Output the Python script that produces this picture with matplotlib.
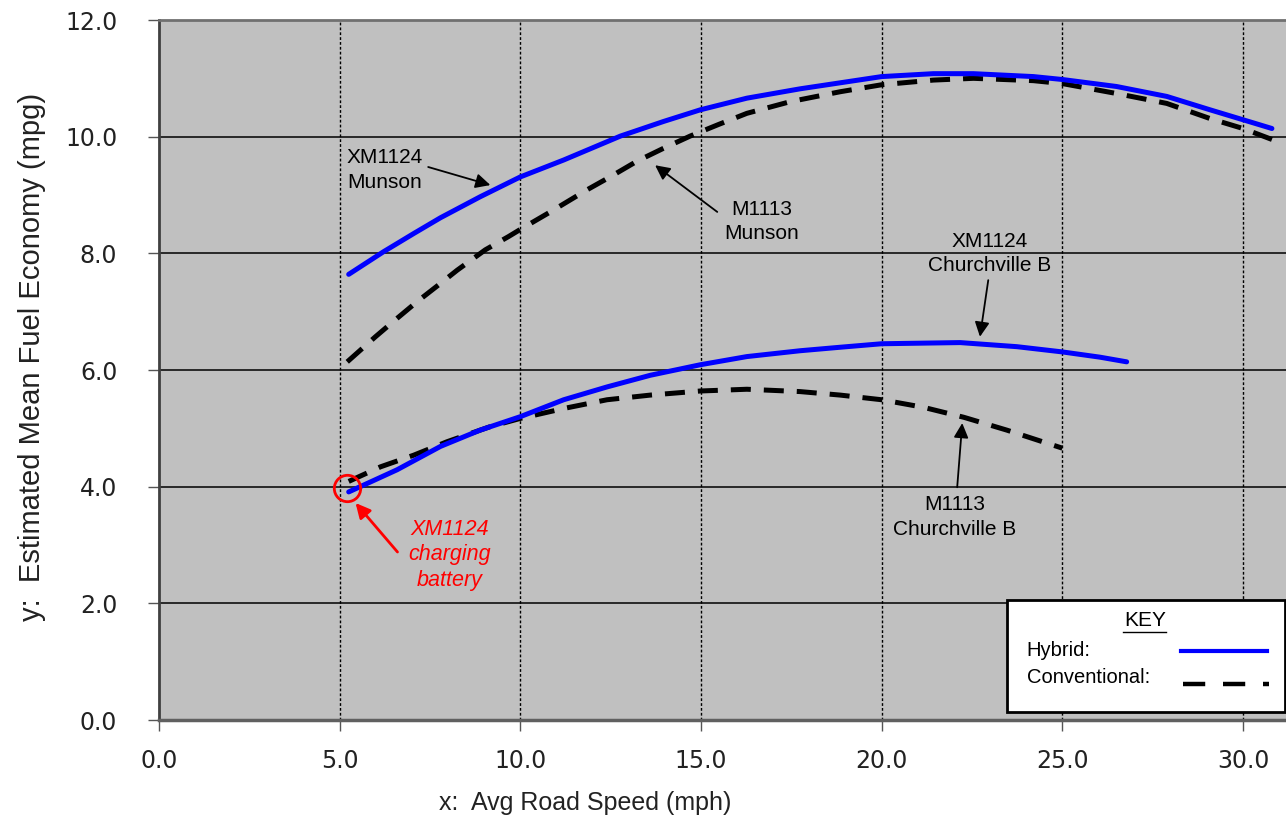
import matplotlib
matplotlib.use("Agg")
import matplotlib.pyplot as plt
from matplotlib.patches import Rectangle

# values (x = avg road speed mph, y = mpg)
hyb_munson_x = [5.25, 6.22, 7.05, 7.79, 8.89, 10.0, 11.2, 12.77, 13.96, 14.98, 16.27,
                17.74, 20.0, 21.43, 22.54, 24.2, 25.0, 26.5, 27.89, 29.09, 30.0, 30.8]
hyb_munson_y = [7.64, 8.03, 8.34, 8.61, 8.97, 9.31, 9.60, 10.01, 10.26, 10.46, 10.66,
                10.82, 11.03, 11.08, 11.08, 11.03, 10.98, 10.86, 10.69, 10.46, 10.29, 10.14]

conv_munson_x = [5.21, 5.99, 6.54, 7.14, 7.74, 8.25, 9.03, 9.68, 10.0, 10.83, 11.85,
                 12.54, 13.23, 13.96, 14.70, 15.49, 16.27, 17.47, 18.85, 20.0, 21.43,
                 22.54, 24.2, 25.0, 26.5, 27.89, 29.09, 30.0, 30.98]
conv_munson_y = [6.14, 6.57, 6.86, 7.17, 7.46, 7.71, 8.06, 8.29, 8.41, 8.71, 9.09,
                 9.33, 9.58, 9.80, 10.01, 10.21, 10.40, 10.60, 10.77, 10.89, 10.97,
                 11.0, 10.96, 10.91, 10.74, 10.57, 10.31, 10.14, 9.91]

hyb_church_x = [5.25, 6.59, 7.79, 8.89, 10.0, 11.2, 12.4, 13.6, 14.98, 16.27, 17.74,
                18.85, 20.0, 22.17, 23.74, 25.0, 26.04, 26.78]
hyb_church_y = [3.91, 4.29, 4.69, 4.97, 5.20, 5.49, 5.71, 5.91, 6.09, 6.23, 6.33,
                6.39, 6.45, 6.47, 6.40, 6.31, 6.22, 6.14]

conv_church_x = [5.25, 6.13, 7.05, 7.97, 9.17, 10.0, 11.2, 12.4, 13.6, 14.98, 16.27,
                 17.74, 18.85, 20.0, 21.16, 22.27, 23.46, 25.0]
conv_church_y = [4.09, 4.34, 4.54, 4.77, 5.03, 5.17, 5.34, 5.49, 5.57, 5.64, 5.67,
                 5.63, 5.57, 5.49, 5.36, 5.19, 4.97, 4.66]

charge_pt = (5.21, 3.98)

x_ticks = [0, 5, 10, 15, 20, 25, 30]
y_ticks = [0, 2, 4, 6, 8, 10, 12]

BLUE = "#0000ff"
BG = "#c0c0c0"
sans = ["Liberation Sans", "DejaVu Sans"]

fig = plt.figure(figsize=(12.86, 8.25), dpi=100)
ax = fig.add_axes([159/1286, 105/825, 1127/1286, 700/825])
ax.set_facecolor(BG)

lw = 3.6
ax.plot(hyb_munson_x, hyb_munson_y, color=BLUE, lw=lw, solid_capstyle="round",
        solid_joinstyle="round", zorder=4)
ax.plot(conv_munson_x, conv_munson_y, color="black", lw=lw, dashes=(4, 2.6), zorder=3)
ax.plot(hyb_church_x, hyb_church_y, color=BLUE, lw=lw, solid_capstyle="round",
        solid_joinstyle="round", zorder=4)
ax.plot(conv_church_x, conv_church_y, color="black", lw=lw, dashes=(4, 2.6), zorder=3)

# red circle on the charging point
ax.plot([charge_pt[0]], [charge_pt[1]], marker="o", ms=19, mfc="none",
        mec="red", mew=2, zorder=5)

ax.set_xlim(0, 31.19)
ax.set_ylim(0, 12)
ax.set_xticks(x_ticks)
ax.set_yticks(y_ticks)
ax.set_xticklabels([f"{v:.1f}" for v in x_ticks])
ax.set_yticklabels([f"{v:.1f}" for v in y_ticks])
ax.tick_params(axis="y", length=8, width=1, color="#555555", pad=22,
               labelsize=17, labelcolor="#222222")
ax.tick_params(axis="x", length=8, width=1, color="#555555", pad=13,
               labelsize=17, labelcolor="#222222")

# grid: solid horizontals, dotted verticals
for yv in y_ticks[1:-1]:
    ax.axhline(yv, color="black", lw=1.1, zorder=1)
for xv in x_ticks[1:]:
    ax.axvline(xv, color="black", lw=1, ls=(0, (2, 1.5)), zorder=1)

ax.spines["left"].set_color("#404040")
ax.spines["left"].set_linewidth(2)
ax.spines["bottom"].set_color("#606060")
ax.spines["bottom"].set_linewidth(2.5)
ax.spines["top"].set_color("#707070")
ax.spines["top"].set_linewidth(2)
ax.spines["right"].set_visible(False)

# annotations
txt_kw = dict(ha="center", va="center", fontsize=15, family=sans, linespacing=1.35, zorder=6)
arr = dict(arrowstyle="-|>", color="black", lw=1.3, mutation_scale=22, shrinkA=0, shrinkB=0)

ax.text(6.24, 9.43, "XM1124\nMunson", **txt_kw)
ax.annotate("", xy=(9.17, 9.17), xytext=(7.45, 9.48), arrowprops=arr)

ax.text(16.67, 8.54, "M1113\nMunson", **txt_kw)
ax.annotate("", xy=(13.73, 9.51), xytext=(15.45, 8.71), arrowprops=arr)

ax.text(23.0, 8.0, "XM1124\nChurchville B", **txt_kw)
ax.annotate("", xy=(22.72, 6.57), xytext=(22.95, 7.54), arrowprops=arr)

ax.text(22.03, 3.48, "M1113\nChurchville B", **txt_kw)
ax.annotate("", xy=(22.23, 5.09), xytext=(22.09, 3.99), arrowprops=arr)

ax.text(8.04, 2.83, "XM1124\ncharging\nbattery", color="red", style="italic",
        ha="center", va="center", fontsize=15.5, family=sans, linespacing=1.3, zorder=6)
red_arr = dict(arr, color="red", lw=2)
ax.annotate("", xy=(5.44, 3.72), xytext=(6.6, 2.88), arrowprops=red_arr)

# key box
ax.add_patch(Rectangle((0.7524, 0.0114), 0.2467, 0.16, transform=ax.transAxes,
                       facecolor="white", edgecolor="black", lw=2, zorder=7, clip_on=False))
ax.text(0.875, 0.142, "KEY", transform=ax.transAxes, ha="center", va="center",
        fontsize=15, family=sans, zorder=8)
ax.plot([0.8554, 0.8935], [0.1257, 0.1257], transform=ax.transAxes, color="black",
        lw=1, zorder=8)
ax.text(0.770, 0.0986, "Hybrid:", transform=ax.transAxes, ha="left", va="center",
        fontsize=14.5, family=sans, zorder=8)
ax.text(0.770, 0.0614, "Conventional:", transform=ax.transAxes, ha="left", va="center",
        fontsize=14.5, family=sans, zorder=8)
ax.plot([0.907, 0.983], [0.0986, 0.0986], transform=ax.transAxes, color=BLUE,
        lw=3, zorder=8)
ax.plot([0.9086, 0.985], [0.0514, 0.0514], transform=ax.transAxes, color="black",
        lw=3.2, dashes=(5, 4), zorder=8)

fig.text(32/1286, 1 - 357/825, "y:  Estimated Mean Fuel Economy (mpg)", rotation=90,
         ha="center", va="center", fontsize=21,
         family=["Liberation Sans Narrow", "Liberation Sans", "DejaVu Sans"], color="#222222")
fig.text(585/1286, 1 - 803/825, "x:  Avg Road Speed (mph)", ha="center", va="center",
         fontsize=18, family=sans, color="#222222")

fig.savefig("out.png", dpi=100, facecolor="white")
